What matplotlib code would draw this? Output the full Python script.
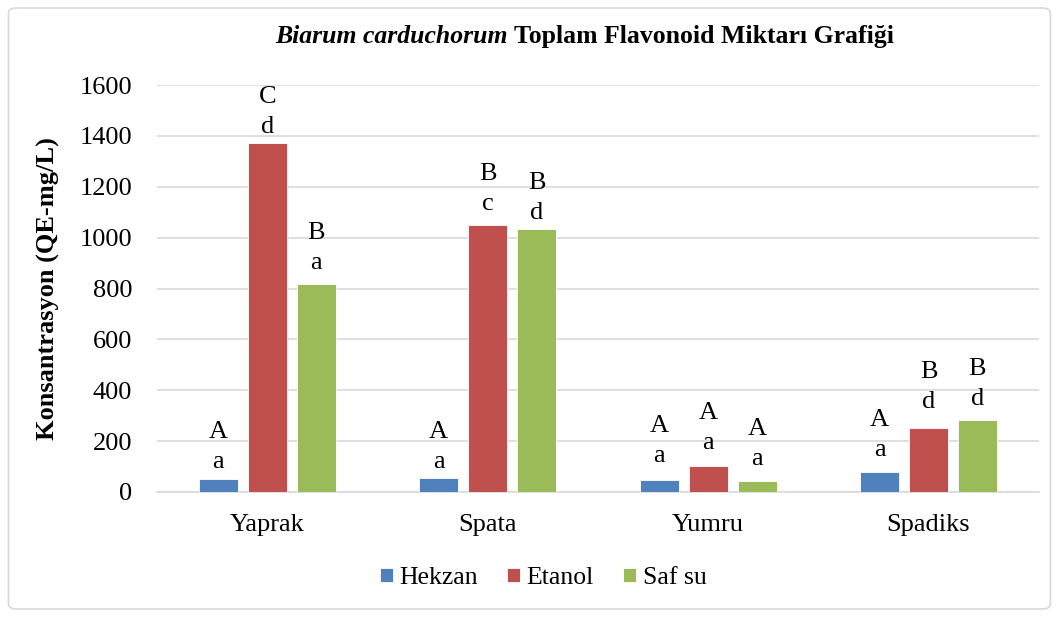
import numpy as np
import matplotlib.pyplot as plt
from matplotlib.patches import FancyBboxPatch

plt.rcParams['font.family'] = ['Liberation Serif', 'DejaVu Serif']

categories = ['Yaprak', 'Spata', 'Yumru', 'Spadiks']
series = ['Hekzan', 'Etanol', 'Saf su']
colors = ['#4f81bd', '#c0504d', '#9bbb59']

hekzan = [50, 55, 47, 79]
etanol = [1372, 1050, 102, 252]
saf_su = [818, 1034, 43, 283]

# significance letters (upper / lower) and where they sit
letters_hekzan = ['A\na', 'A\na', 'A\na', 'A\na']
letters_etanol = ['C\nd', 'B\nc', 'A\na', 'B\nd']
letters_saf_su = ['B\na', 'B\nd', 'A\na', 'B\nd']
label_y_hekzan = [177, 177, 200, 224]
label_y_etanol = [1494, 1191, 252, 413]
label_y_saf_su = [959, 1156, 189, 425]

values = [hekzan, etanol, saf_su]
letters = [letters_hekzan, letters_etanol, letters_saf_su]
label_y = [label_y_hekzan, label_y_etanol, label_y_saf_su]

fig = plt.figure(figsize=(10.61, 6.17), dpi=100)
ax = fig.add_axes([0.148, 0.2026, 0.831, 0.6596])

x = np.arange(len(categories))
w = 0.177
step = 0.222
for i, s in enumerate(series):
    xs = x + (i - 1) * step
    ax.bar(xs, values[i], width=w, color=colors[i], label=s, zorder=3,
           edgecolor='white', linewidth=0.6)
    for xi, yi, t in zip(xs, label_y[i], letters[i]):
        ax.text(xi, yi, t, ha='center', va='center', fontsize=19,
                linespacing=1.45, zorder=4)

ax.set_xlim(-0.5, 3.5)
ax.set_ylim(0, 1600)
ax.set_yticks(range(0, 1601, 200))
ax.set_xticks(x)
ax.set_xticklabels(categories)
ax.yaxis.grid(True, color='#d9d9d9', linewidth=1.2, zorder=0)
for sp in ['top', 'right', 'left']:
    ax.spines[sp].set_visible(False)
ax.spines['bottom'].set_color('#d9d9d9')
ax.spines['bottom'].set_linewidth(1.2)
ax.tick_params(axis='y', length=0, labelsize=19, pad=18)
ax.tick_params(axis='x', length=0, labelsize=19, pad=16)
ax.set_ylabel('Konsantrasyon (QE-mg/L)', fontsize=19, fontweight='bold')
ax.yaxis.set_label_coords(-0.110, 0.5)

# title: bold italic species name + bold rest
t1 = fig.text(0.0, 0.941, 'Biarum carduchorum', fontsize=18.5, style='italic',
              fontweight='bold', va='center')
t2 = fig.text(0.0, 0.941, ' Toplam Flavonoid Miktarı Grafiği', fontsize=18.5,
              fontweight='bold', va='center')
fig.canvas.draw()
r = fig.canvas.get_renderer()
w1 = t1.get_window_extent(r).width / fig.bbox.width
w2 = t2.get_window_extent(r).width / fig.bbox.width
x0 = 0.551 - (w1 + w2) / 2
t1.set_x(x0)
t2.set_x(x0 + w1)

fig.legend(loc='center', bbox_to_anchor=(0.512, 0.063), ncol=3, frameon=False,
           fontsize=18.5, handlelength=0.5, handleheight=0.5, handletextpad=0.25,
           columnspacing=1.15)

border = FancyBboxPatch((0.008, 0.013), 0.982, 0.974, transform=fig.transFigure,
                        boxstyle='round,pad=0,rounding_size=0.008',
                        facecolor='none', edgecolor='#d9d9d9', linewidth=1.2)
fig.patches.append(border)

fig.savefig('out.png', dpi=100)
